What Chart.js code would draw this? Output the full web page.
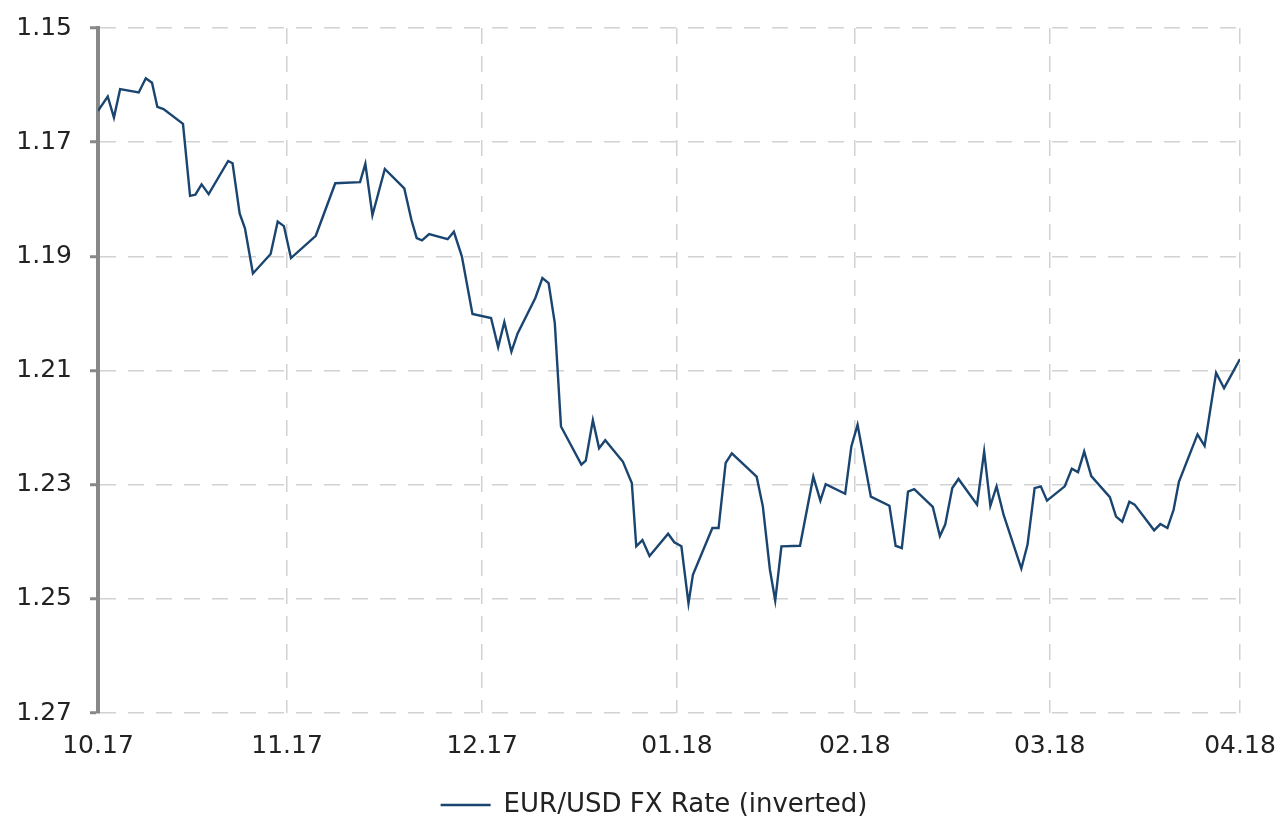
<!DOCTYPE html>
<html>
<head>
<meta charset="utf-8">
<script src="https://cdn.jsdelivr.net/npm/chart.js@4/dist/chart.umd.min.js"></script>
<style>
  html, body { margin: 0; padding: 0; background: #fff; }
  #wrap { width: 1287px; height: 822px; position: relative; }
</style>
</head>
<body>
<div id="wrap"><canvas id="fxChart"></canvas></div>
<script>
// trading-day position (0 = start of Oct 2017) and inverted EUR/USD rate
const days = [
  0, 1.1, 1.8, 2.5, 4.6, 5.4, 6.1, 6.7, 7.4, 9.6, 10.4, 11.0, 11.7, 12.5, 14.7, 15.2,
  16.0, 16.6, 17.5, 19.5, 20.3, 21.0, 21.8, 24.6, 26.8, 29.6, 30.2, 31.0, 32.4, 34.6,
  35.4, 36.0, 36.6, 37.4, 39.5, 40.2, 41.1, 42.3, 44.4, 45.2, 45.9, 46.7, 47.4, 49.4,
  50.2, 50.9, 51.6, 52.3, 54.6, 55.1, 55.9, 56.6, 57.3, 59.3, 60.3, 60.8, 61.5, 62.3,
  64.4, 65.1, 65.9, 66.7, 67.2, 69.4, 70.1, 70.9, 71.6, 74.4, 75.1, 75.9, 76.5, 77.2,
  79.3, 80.8, 81.6, 82.2, 84.4, 85.1, 85.8, 87.3, 89.4, 90.1, 90.8, 91.5, 92.2, 94.3,
  95.1, 95.7, 96.5, 97.2, 99.3, 100.1, 100.8, 101.5, 102.3, 104.3, 105.0, 105.8, 106.5,
  107.2, 109.2, 110.0, 110.7, 111.4, 112.2, 114.3, 115.0, 115.7, 116.5, 117.1, 119.3,
  120.0, 120.8, 121.5, 122.1, 124.2, 125.0, 126.3, 127.2, 129.0
];
const rates = [
  1.1645, 1.1620, 1.1657, 1.1607, 1.1613, 1.1588, 1.1596, 1.1638, 1.1642, 1.1668, 1.1794, 1.1792, 1.1774, 1.1791, 1.1733, 1.1737,
  1.1825, 1.1851, 1.1930, 1.1896, 1.1839, 1.1847, 1.1903, 1.1864, 1.1772, 1.1770, 1.1738, 1.1828, 1.1747, 1.1781,
  1.1836, 1.1868, 1.1872, 1.1861, 1.1870, 1.1857, 1.1900, 1.2001, 1.2008, 1.2059, 1.2015, 1.2067, 1.2035, 1.1973,
  1.1938, 1.1947, 1.2017, 1.2198, 1.2265, 1.2258, 1.2187, 1.2236, 1.2222, 1.2260, 1.2297, 1.2408, 1.2397, 1.2425,
  1.2386, 1.2401, 1.2408, 1.2508, 1.2458, 1.2376, 1.2376, 1.2262, 1.2245, 1.2286, 1.2338, 1.2449, 1.2503, 1.2408,
  1.2407, 1.2286, 1.2328, 1.2299, 1.2316, 1.2233, 1.2195, 1.2321, 1.2337, 1.2407, 1.2411, 1.2312, 1.2308, 1.2339,
  1.2390, 1.2370, 1.2306, 1.2290, 1.2335, 1.2242, 1.2337, 1.2303, 1.2353, 1.2447, 1.2405, 1.2306, 1.2303,
  1.2328, 1.2303, 1.2272, 1.2278, 1.2242, 1.2285, 1.2322, 1.2356, 1.2365, 1.2330, 1.2335, 1.2380,
  1.2369, 1.2376, 1.2344, 1.2295, 1.2212, 1.2232, 1.2104, 1.2131, 1.2080
];
// month boundaries on the trading-day axis
const monthPos = [0, 21.35, 43.4, 65.4, 85.5, 107.5, 129];
const monthLabels = ['10.17', '11.17', '12.17', '01.18', '02.18', '03.18', '04.18'];
const yTicks = [1.15, 1.17, 1.19, 1.21, 1.23, 1.25, 1.27];

const lineColor = '#1a4570';
const gridColor = '#d2d2d2';
const textColor = '#222';
const font = 'DejaVu Sans';
const legendShift = 34; // legend sits a bit right of the page centre

const points = days.map((d, i) => ({ x: d, y: rates[i] }));

const nudgeLegend = {
  id: 'nudgeLegend',
  afterLayout(chart) {
    chart.legend.left += legendShift;
    chart.legend.right += legendShift;
  }
};

new Chart(document.getElementById('fxChart'), {
  type: 'line',
  data: {
    datasets: [{
      label: 'EUR/USD FX Rate (inverted)',
      data: points,
      borderColor: lineColor,
      backgroundColor: lineColor,
      borderWidth: 2.4,
      pointRadius: 0,
      tension: 0
    }]
  },
  options: {
    responsive: true,
    maintainAspectRatio: false,
    animation: false,
    layout: { padding: { top: 28, right: 47, left: 0, bottom: -6 } },
    plugins: {
      tooltip: { enabled: false },
      legend: {
        position: 'bottom',
        labels: {
          usePointStyle: true,
          pointStyle: 'line',
          pointStyleWidth: 50,
          boxWidth: 50,
          boxHeight: 26,
          padding: 4,
          color: textColor,
          font: { family: font, size: 26 }
        }
      }
    },
    scales: {
      x: {
        type: 'linear',
        min: 0,
        max: 129,
        afterBuildTicks: s => { s.ticks = monthPos.map(v => ({ value: v })); },
        afterFit: s => { s.height = 75; s.paddingLeft = 0; s.paddingRight = 0; },
        ticks: {
          autoSkip: false,
          maxRotation: 0,
          padding: 18,
          color: textColor,
          font: { family: font, size: 25 },
          callback: (v, i) => monthLabels[i]
        },
        grid: { color: gridColor, lineWidth: 1.5, drawTicks: false },
        border: { display: false, dash: [16, 12] }
      },
      y: {
        reverse: true,
        min: 1.15,
        max: 1.27,
        afterBuildTicks: s => { s.ticks = yTicks.map(v => ({ value: v })); },
        afterFit: s => { s.width = 98; s.paddingTop = 0; s.paddingBottom = 0; },
        ticks: {
          padding: 18,
          color: textColor,
          font: { family: font, size: 25 },
          callback: v => v.toFixed(2)
        },
        grid: { color: gridColor, lineWidth: 1.5, tickColor: '#888', tickLength: 8, tickWidth: 3 },
        border: { display: true, color: '#888', width: 4, dash: [16, 12] }
      }
    }
  },
  plugins: [nudgeLegend]
});
</script>
</body>
</html>
